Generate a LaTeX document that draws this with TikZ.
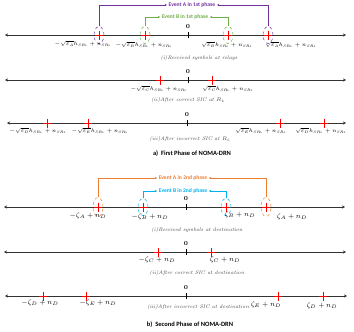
\RequirePackage{fix-cm}
\documentclass[tikz,border=0pt]{standalone}
\usepackage{fontspec}
\setsansfont{Carlito}
\DeclareMathSizes{5.2}{5.2}{3.6}{2.6}
\usetikzlibrary{arrows.meta,shapes.geometric}
\definecolor{purp}{RGB}{112,48,160}
\definecolor{grn}{RGB}{112,173,71}
\definecolor{org}{RGB}{237,125,49}
\definecolor{blu}{RGB}{0,176,240}
\definecolor{capgray}{RGB}{70,70,70}
\newcommand{\sqlab}[2]{$#1\sqrt{\varepsilon_{#2}}h_{SR_k}+n_{SR_k}$}
\begin{document}
\begin{tikzpicture}[x=1pt,y=-1pt,
  axisline/.style={draw=black!80, line width=0.7pt, {Stealth[length=3pt,width=3pt]}-{Stealth[length=3pt,width=3pt]}},
  zerotick/.style={line width=1pt},
  zerolab/.style={font=\fontsize{6}{7}\selectfont\bfseries, inner sep=0pt},
  lab/.style={font=\fontsize{5.2}{6.2}\selectfont, inner sep=0pt},
  zlab/.style={font=\fontsize{7}{8}\selectfont, inner sep=0pt},
  captext/.style={font=\fontsize{5.2}{6.2}\selectfont\itshape, text=capgray, inner sep=0pt},
  ttl/.style={font=\sffamily\bfseries\fontsize{6.5}{7.5}\selectfont, inner sep=0pt},
  evt/.style={font=\sffamily\bfseries\fontsize{5.6}{6.6}\selectfont, inner sep=1.5pt},
  evell/.style={ellipse, dashed, minimum width=10pt, minimum height=17pt, inner sep=0pt, line width=0.5pt},
  evarrow/.style={-{Stealth[length=2.5pt,width=2.2pt]}, line width=0.6pt},
  redplus/.pic={\draw[red, line width=0.9pt] (-4,0)--(4,0) (0,-4.5)--(0,4.5);}
]
\useasboundingbox (0,0) rectangle (354,332);

% ---------------- Line 1 ----------------
\coordinate (l1a) at (5,35); \coordinate (l1b) at (346,35);
\draw[axisline] (l1a) -- (l1b);
\coordinate (z1) at (188,35);
\draw[zerotick] ([yshift=-3pt]z1) -- ([yshift=3pt]z1);
\node[zerolab] (z1l) at (188,27) {0};
\pic at (99,35) {redplus}; \pic at (145,35) {redplus};
\pic at (228,35) {redplus}; \pic at (268,35) {redplus};
\node[evell, draw=purp] (eA1l) at (99,35) {};
\node[evell, draw=purp] (eA1r) at (268,35) {};
\node[evell, draw=grn] (eB1l) at (145,35) {};
\node[evell, draw=grn] (eB1r) at (228,35) {};
\node[evt, text=purp] (evA1) at (192,5) {Event A in 1st phase};
\node[evt, text=grn] (evB1) at (185,17) {Event B in 1st phase};
\draw[evarrow, purp] (eA1l.north) |- (evA1.west);
\draw[evarrow, purp] (eA1r.north) |- (evA1.east);
\draw[evarrow, grn] (eB1l.north) |- (evB1.west);
\draw[evarrow, grn] (eB1r.north) |- (evB1.east);
\node[lab] (t1a) at (83,44) {\sqlab{-}{A}};
\node[lab] (t1b) at (144,45) {\sqlab{-}{B}};
\node[lab] (t1c) at (227,45) {\sqlab{}{B}};
\node[lab] (t1d) at (291,45) {\sqlab{}{A}};
\node[captext] (c1) at (199,58) {(i)Received symbols at relays};

% ---------------- Line 2 ----------------
\coordinate (l2a) at (5,80); \coordinate (l2b) at (346,80);
\draw[axisline] (l2a) -- (l2b);
\coordinate (z2) at (188,80);
\draw[zerotick] ([yshift=-3pt]z2) -- ([yshift=3pt]z2);
\node[zerolab] (z2l) at (188,72) {0};
\pic at (160,80) {redplus}; \pic at (212,80) {redplus};
\node[lab] (t2a) at (159,89) {\sqlab{-}{C}};
\node[lab] (t2b) at (228,89) {\sqlab{}{C}};
\node[captext] (c2) at (188,100) {(ii)After correct SIC at $R_k$};

% ---------------- Line 3 ----------------
\coordinate (l3a) at (7,123); \coordinate (l3b) at (346,123);
\draw[axisline] (l3a) -- (l3b);
\coordinate (z3) at (187,123);
\draw[zerotick] ([yshift=-3pt]z3) -- ([yshift=3pt]z3);
\node[zerolab] (z3l) at (187,115) {0};
\pic at (47,123) {redplus}; \pic at (88,123) {redplus};
\pic at (280,123) {redplus}; \pic at (324,123) {redplus};
\node[lab] (t3a) at (38,131) {\sqlab{-}{D}};
\node[lab] (t3b) at (100,131) {\sqlab{-}{E}};
\node[lab] (t3c) at (261,131) {\sqlab{}{E}};
\node[lab] (t3d) at (321,131) {\sqlab{}{D}};
\node[captext] (c3) at (190,139) {(iii)After incorrect SIC at $R_k$};
\node[ttl] (ta) at (192,154) {a)\ \ First Phase of NOMA-DRN};

% ---------------- Line 4 ----------------
\coordinate (l4a) at (4,207); \coordinate (l4b) at (345,207);
\draw[axisline] (l4a) -- (l4b);
\coordinate (z4) at (186,207);
\draw[zerotick] ([yshift=-3pt]z4) -- ([yshift=3pt]z4);
\node[zerolab] (z4l) at (186,199) {0};
\pic at (98,207) {redplus}; \pic at (143,207) {redplus};
\pic at (226,207) {redplus}; \pic at (266,207) {redplus};
\node[evell, draw=org, minimum height=19pt] (eA2l) at (98,207) {};
\node[evell, draw=org, minimum height=19pt] (eA2r) at (266,207) {};
\node[evell, draw=blu] (eB2l) at (143,207) {};
\node[evell, draw=blu] (eB2r) at (226,207) {};
\node[evt, text=org] (evA2) at (183,178) {Event A in 2nd phase};
\node[evt, text=blu] (evB2) at (183,191) {Event B in 2nd phase};
\draw[evarrow, org] (eA2l.north) |- (evA2.west);
\draw[evarrow, org] (eA2r.north) |- (evA2.east);
\draw[evarrow, blu] (eB2l.north) |- (evB2.west);
\draw[evarrow, blu] (eB2r.north) |- (evB2.east);
\node[zlab] (t4a) at (88,216) {$-\zeta_A+n_D$};
\node[zlab] (t4b) at (150,217) {$-\zeta_B+n_D$};
\node[zlab] (t4c) at (240,215) {$\zeta_B+n_D$};
\node[zlab] (t4d) at (292,217) {$\zeta_A+n_D$};
\node[captext] (c4) at (197,230) {(i)Received symbols at destination};

% ---------------- Line 5 ----------------
\coordinate (l5a) at (4,252); \coordinate (l5b) at (346,252);
\draw[axisline] (l5a) -- (l5b);
\coordinate (z5) at (186,252);
\draw[zerotick] ([yshift=-3pt]z5) -- ([yshift=3pt]z5);
\node[zerolab] (z5l) at (186,244) {0};
\pic at (158,252) {redplus}; \pic at (211,252) {redplus};
\node[zlab] (t5a) at (157,260) {$-\zeta_C+n_D$};
\node[zlab] (t5b) at (225,260) {$\zeta_C+n_D$};
\node[captext] (c5) at (197,273) {(ii)After correct SIC at destination};

% ---------------- Line 6 ----------------
\coordinate (l6a) at (5,296); \coordinate (l6b) at (347,296);
\draw[axisline] (l6a) -- (l6b);
\coordinate (z6) at (186,296);
\draw[zerotick] ([yshift=-3pt]z6) -- ([yshift=3pt]z6);
\node[zerolab] (z6l) at (186,288) {0};
\pic at (43,296) {redplus}; \pic at (86,296) {redplus};
\pic at (278,296) {redplus}; \pic at (323,296) {redplus};
\node[zlab] (t6a) at (40,303) {$-\zeta_D+n_D$};
\node[zlab] (t6b) at (98,303) {$-\zeta_E+n_D$};
\node[zlab] (t6c) at (266,305) {$\zeta_E+n_D$};
\node[zlab] (t6d) at (322,306) {$\zeta_D+n_D$};
\node[captext] (c6) at (198,307) {(iii)After incorrect SIC at destination};
\node[ttl] (tb) at (190,325) {b)\ \ Second Phase of NOMA-DRN};
\end{tikzpicture}
\end{document}
